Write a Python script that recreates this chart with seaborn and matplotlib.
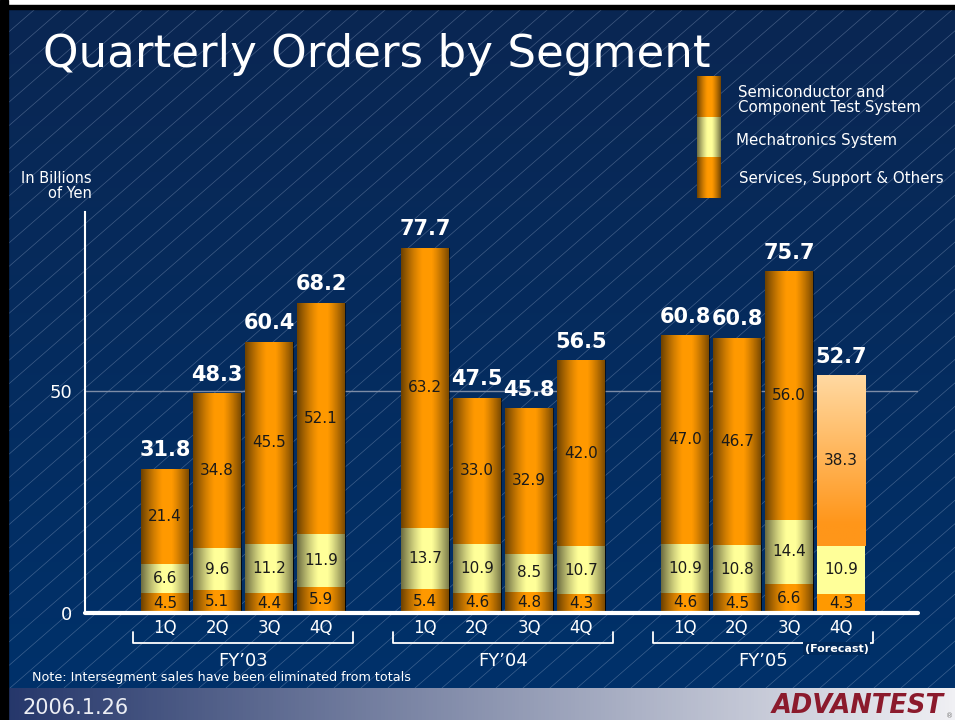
import numpy as np
import pandas as pd
import matplotlib
matplotlib.use("Agg")
import matplotlib.pyplot as plt
import seaborn as sns
from matplotlib.patches import Rectangle
from matplotlib.colors import to_rgb

# values in billions of yen
fiscal_years = ["FY’03", "FY’04", "FY’05"]
quarters = ["1Q", "2Q", "3Q", "4Q"]
semiconductor = [21.4, 34.8, 45.5, 52.1, 63.2, 33.0, 32.9, 42.0, 47.0, 46.7, 56.0, 38.3]
mechatronics = [6.6, 9.6, 11.2, 11.9, 13.7, 10.9, 8.5, 10.7, 10.9, 10.8, 14.4, 10.9]
services = [4.5, 5.1, 4.4, 5.9, 5.4, 4.6, 4.8, 4.3, 4.6, 4.5, 6.6, 4.3]
totals = [31.8, 48.3, 60.4, 68.2, 77.7, 47.5, 45.8, 56.5, 60.8, 60.8, 75.7, 52.7]
forecast = [False] * 11 + [True]
legend_labels = ["Semiconductor and\nComponent Test System", "Mechatronics System",
                 "Services, Support & Others"]

ORANGE = "#ff9900"
YELLOW = "#ffff99"
W, H = 955, 720

sns.set_style("white")
plt.rcParams["font.family"] = ["DejaVu Sans"]

df = pd.DataFrame({
    "fy": np.repeat(fiscal_years, 4),
    "quarter": quarters * 3,
    "services": services,
    "mechatronics": mechatronics,
    "semiconductor": semiconductor,
    "total": totals,
    "forecast": forecast,
})
df["pos"] = np.repeat(np.arange(3) * 5, 4) + np.tile(np.arange(4), 3)
df["lower"] = df["services"] + df["mechatronics"]
df["stack"] = df["lower"] + df["semiconductor"]


def px(x, y):
    return x / W, 1 - y / H


fig = plt.figure(figsize=(W / 100, H / 100), dpi=100)

# slide background
bg = fig.add_axes([0, 0, 1, 1])
g = np.linspace(0, 1, 256)
c0, c1 = np.array(to_rgb("#0a2652")), np.array(to_rgb("#00316a"))
bg.imshow((c0 + (c1 - c0) * g[:, None])[:, None, :], extent=[0, W, 688, 0], aspect="auto", zorder=0)
tan = np.tan(np.radians(41))
for x0 in np.arange(-800, W, 27):
    bg.plot([x0, x0 + 688 / tan], [688, 0], color="#9db0cf", lw=0.5, alpha=0.38, zorder=1)
f0, f1 = np.array(to_rgb("#24366a")), np.array(to_rgb("#f0f0f4"))
bg.imshow((f0 + (f1 - f0) * g[:, None])[None, :, :], extent=[0, W, H, 688], aspect="auto", zorder=2)
bg.add_patch(Rectangle((0, 0), W, 5, color="white", zorder=3))
bg.add_patch(Rectangle((0, 5), W, 4, color="black", zorder=3))
bg.add_patch(Rectangle((0, 0), 8, H, color="black", zorder=3))
bg.set_xlim(0, W)
bg.set_ylim(H, 0)
bg.axis("off")

# cylinder shading overlay
t = np.linspace(0, 1, 96)
alpha = np.where(t < 0.45, 0.58 * (1 - t / 0.45) ** 1.3,
                 np.where(t > 0.62, 0.55 * ((t - 0.62) / 0.38) ** 1.2, 0))
shade = np.zeros((1, t.size, 4))
shade[..., 3] = alpha


def shade_patch(a, p, z):
    x0, y0, w, h = p.get_x(), p.get_y(), p.get_width(), p.get_height()
    im = a.imshow(shade, extent=[x0, x0 + w, y0, y0 + h], aspect="auto",
                  interpolation="bilinear", zorder=z)
    im.set_clip_path(p)


ax = fig.add_axes([85 / W, 1 - 613 / H, (918 - 85) / W, (613 - 212) / H])
ax.patch.set_alpha(0)

layers = [("stack", ORANGE), ("lower", YELLOW), ("services", ORANGE)]
layer_patches = []
for i, (col, color) in enumerate(layers):
    n0 = len(ax.patches)
    sns.barplot(data=df, x="pos", y=col, native_scale=True, color=color, saturation=1,
                width=0.93, errorbar=None, edgecolor="none", linewidth=0,
                zorder=2 + i, ax=ax)
    layer_patches.append(ax.patches[n0:])

for i, patches in enumerate(layer_patches):
    for p, fc in zip(patches, df["forecast"]):
        if not fc:
            shade_patch(ax, p, 2.5 + i)

# forecast bar: flat, top segment fades to peach
top_p, mid_p = layer_patches[0][-1], layer_patches[1][-1]
v0, v1 = np.array(to_rgb("#ffd9a2")), np.array(to_rgb("#ff961a"))
vg = (v0 + (v1 - v0) * np.clip(g * 1.15, 0, 1)[:, None])[:, None, :]
im = ax.imshow(vg, extent=[top_p.get_x(), top_p.get_x() + top_p.get_width(),
                           mid_p.get_height(), top_p.get_height()],
               aspect="auto", zorder=2.5)
im.set_clip_path(top_p)

ax.axhline(50, color="#7d8ca6", lw=1, zorder=1.5)
ax.axhline(0, color="white", lw=3, zorder=8, clip_on=False)

lab = dict(ha="center", va="center", color="#1a1a1a", fontsize=11, zorder=9)
for r in df.itertuples():
    ax.text(r.pos, r.services / 2, f"{r.services:.1f}", **lab)
    ax.text(r.pos, r.services + r.mechatronics / 2, f"{r.mechatronics:.1f}", **lab)
    ax.text(r.pos, r.lower + r.semiconductor / 2, f"{r.semiconductor:.1f}", **lab)
    ax.annotate(f"{r.total:.1f}", (r.pos, r.stack), xytext=(0, 6), textcoords="offset points",
                ha="center", va="bottom", color="white", fontsize=15, fontweight="bold")

for fy in fiscal_years:
    sub = df[df["fy"] == fy]
    a, b = sub["pos"].min() - 0.62, sub["pos"].max() + 0.62
    ax.plot([a, a, b, b], [-4.3, -6.8, -6.8, -4.3], color="white", lw=1.3, clip_on=False)
    ax.text((a + b) / 2, -10.7, fy, ha="center", va="center", color="white", fontsize=13)
ax.text(12.92, -8.0, "(Forecast)", ha="center", va="center", color="white", fontsize=8,
        fontweight="bold", zorder=10,
        bbox=dict(boxstyle="square,pad=0.15", fc="#012a5c", ec="none"))

ax.set_xlim(-1.54, 14.48)
ax.set_ylim(0, 90.3)
ax.set_xticks(df["pos"], df["quarter"])
ax.set_yticks([0, 50])
ax.tick_params(axis="x", length=0, pad=4, labelsize=12, labelcolor="white")
ax.tick_params(axis="y", length=0, pad=9, labelsize=13, labelcolor="white")
ax.set_xlabel("")
ax.set_ylabel("")
for s in ["top", "right", "bottom"]:
    ax.spines[s].set_visible(False)
ax.spines["left"].set_color("white")
ax.spines["left"].set_linewidth(1.5)

# legend swatch
lax = fig.add_axes([697 / W, 1 - 198 / H, 24 / W, 122 / H])
for k, color in enumerate([ORANGE, YELLOW, ORANGE]):
    r = Rectangle((0, 2 - k), 1, 1, color=color, lw=0)
    lax.add_patch(r)
    shade_patch(lax, r, 3)
lax.set_xlim(0, 1)
lax.set_ylim(0, 3)
lax.axis("off")
for (x, y), s in zip([(738, 100), (736, 141), (739, 178)], legend_labels):
    fig.text(*px(x, y), s, ha="left", va="center", color="white", fontsize=10.8, linespacing=0.95)

fig.text(*px(43, 67), "Quarterly Orders by Segment", ha="left", va="baseline",
         color="white", fontsize=32.5)
fig.text(*px(92, 186), "In Billions\nof Yen", ha="right", va="center", color="white",
         fontsize=10.5, multialignment="right", linespacing=1.05)
fig.text(*px(32, 677), "Note: Intersegment sales have been eliminated from totals",
         ha="left", va="center", color="white", fontsize=9.2)
fig.text(*px(22, 708), "2006.1.26", ha="left", va="center", color="#eceef4", fontsize=15)
fig.text(*px(944, 706), "ADVANTEST", ha="right", va="center", color="#8b1a2c",
         fontsize=18.5, fontweight="heavy", fontstyle="italic")
fig.text(*px(946, 716), "®", ha="left", va="center", color="#777777", fontsize=5)

fig.savefig("out.png", dpi=100)
